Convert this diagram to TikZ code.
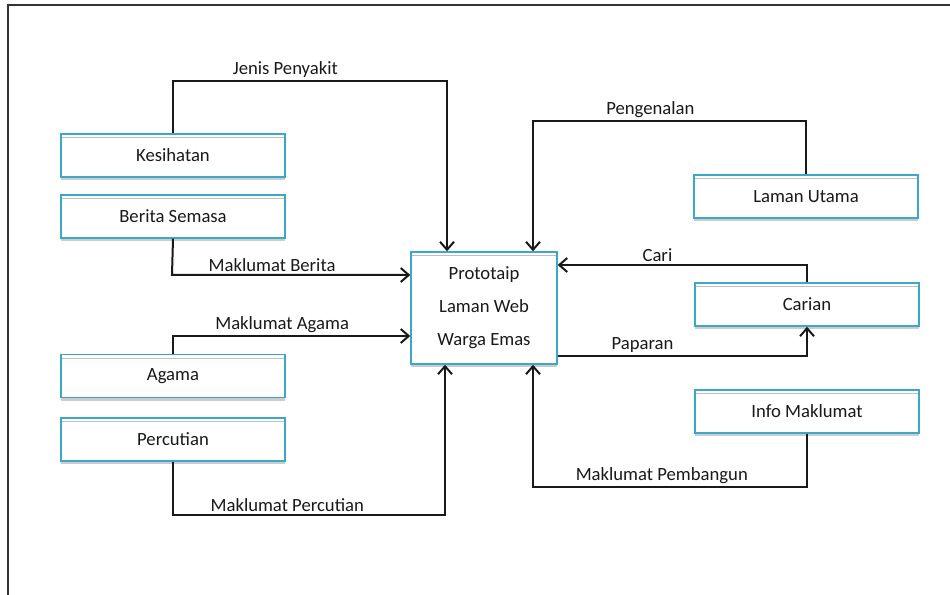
\documentclass[tikz,border=0pt]{standalone}
\usepackage{fontspec}
\setmainfont{Carlito}
\usetikzlibrary{arrows.meta}
\usetikzlibrary{calc}
\usetikzlibrary{shadows}
\definecolor{boxblue}{RGB}{60,168,200}

\tikzset{
  box/.style={draw=boxblue, line width=1.1pt, fill=white, inner sep=0pt,
    minimum width=168pt, minimum height=32.25pt, text=black!90,
    font=\fontsize{14}{17}\selectfont,
    drop shadow={shadow xshift=0pt, shadow yshift=-2.25pt, fill=black!20, opacity=1},
    path picture={\draw[black!25, line width=0.9pt]
      ([yshift=-2.8pt]path picture bounding box.north west) --
      ([yshift=-2.8pt]path picture bounding box.north east);}},
  flow/.style={-{Straight Barb[length=6pt,width=10.5pt]}, black!90, line width=1.5pt},
  lbl/.style={above, inner sep=1.5pt, pos=#1, text=black!90, font=\fontsize{14}{17}\selectfont},
}

\begin{document}
\begin{tikzpicture}[x=0.75pt,y=-0.75pt]
	\useasboundingbox (0,0) rectangle (950,595);
	% outer frame
	\draw[black!80, line width=1.3pt] (8,595) -- (8,5) -- (950,5);

	\node [box] (kes) at (173,155.5) {Kesihatan};
	\node [box] (ber) at (173,216.5) {Berita Semasa};
	\node [box] (agm) at (173,376) {Agama};
	\node [box] (per) at (173,439.5) {Percutian};
	\node [box, minimum width=109.5pt, minimum height=84pt, align=center,
		font=\fontsize{14}{24.75}\selectfont] (ctr) at (484,308) {Prototaip\\Laman Web\\Warga Emas};
	\node [box] (lu) at (806,196.5) {Laman Utama};
	\node [box] (car) at (807,304.5) {Carian};
	\node [box] (inf) at (807,411.5) {Info Maklumat};

	% corners
	\coordinate (jenis1) at (173,81);  \coordinate (jenis2) at (447,81);
	\coordinate (berita1) at (172,275);
	\coordinate (agama1) at (173,336);
	\coordinate (cuti1) at (173,515);  \coordinate (cuti2) at (445,515);
	\coordinate (kenal1) at (806,121); \coordinate (kenal2) at (533,121);
	\coordinate (cari1) at (807,265);
	\coordinate (papar1) at (807,356);
	\coordinate (bina1) at (807,487);  \coordinate (bina2) at (533,487);

	\draw [flow] (kes.north) -- (jenis1) -- node[lbl=.41]{Jenis Penyakit} (jenis2) -- (jenis2 |- ctr.north);
	\draw [flow] (ber.south) -- (berita1) -- node[lbl=.42]{Maklumat Berita} (berita1 -| ctr.west);
	\draw [flow] (agm.north) -- (agama1) -- node[lbl=.46]{Maklumat Agama} (agama1 -| ctr.west);
	\draw [flow] (per.south) -- (cuti1) -- node[lbl=.42]{Maklumat Percutian} (cuti2) -- (cuti2 |- ctr.south);
	\draw [flow] (lu.north) -- (kenal1) -- node[lbl=.57]{Pengenalan} (kenal2) -- (kenal2 |- ctr.north);
	\draw [flow] (car.north) -- (cari1) -- node[lbl=.6]{Cari} (cari1 -| ctr.east);
	\draw [flow] (papar1 -| ctr.east) -- node[lbl=.34]{Paparan} (papar1) -- (car.south);
	\draw [flow] (inf.south) -- (bina1) -- node[lbl=.53]{Maklumat Pembangun} (bina2) -- (bina2 |- ctr.south);
\end{tikzpicture}
\end{document}
